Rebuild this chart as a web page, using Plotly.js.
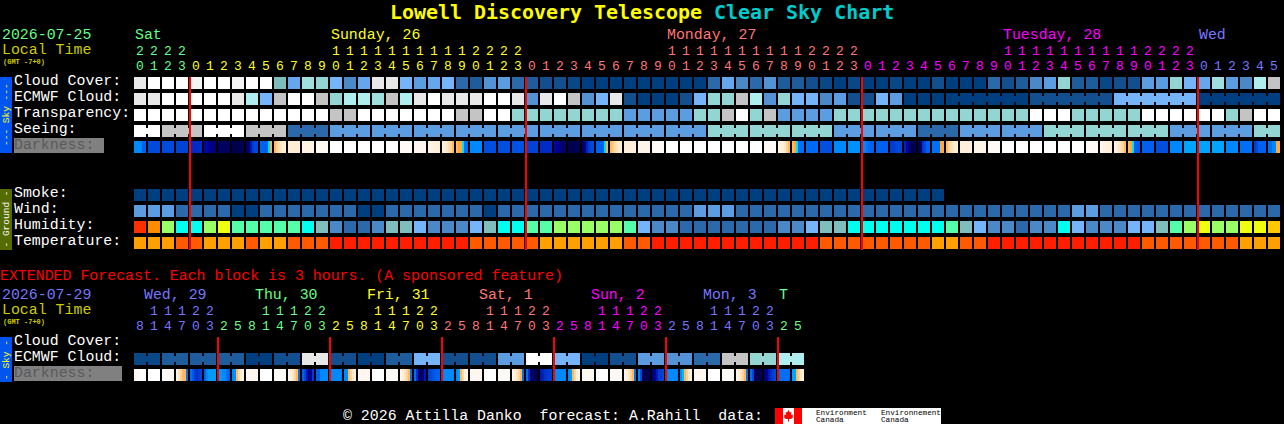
<!DOCTYPE html>
<html>
<head>
<meta charset="utf-8">
<script src="https://cdn.plot.ly/plotly-3.0.1.min.js"></script>
<style>html,body{margin:0;padding:0;background:#000;overflow:hidden}#chart{width:1284px;height:424px}</style>
</head>
<body>
<div id="chart"></div>
<script>
// ---------- values ----------
const cloudCover=[90,100,100,100,95,100,100,95,100,100,55,45,65,60,50,30,45,90,90,50,40,45,50,20,15,35,40,20,15,10,10,5,0,0,0,0,0,0,0,0,0,20,45,30,20,35,15,15,10,5,0,5,0,0,5,0,0,10,0,0,0,20,10,15,30,40,60,15,15,5,10,10,40,40,60,50,45,65,40,30,70,80];
const ecmwfCloud=[90,90,100,100,100,100,100,90,70,50,80,100,100,80,60,70,70,65,80,70,90,100,90,90,90,100,100,90,35,90,100,80,35,50,90,10,0,0,0,10,50,60,60,80,70,35,60,50,50,30,40,10,10,50,40,0,0,0,0,0,0,0,0,0,10,10,10,10,10,10,50,50,50,50,50,50,0,0,0,0,0,0];
const transparency=[100,100,100,100,100,100,100,100,100,100,100,100,100,100,80,80,100,100,100,100,100,100,100,80,80,100,100,60,60,60,60,60,60,60,60,40,40,40,40,40,60,60,80,100,60,80,40,40,40,40,60,60,60,60,60,60,60,60,60,60,60,60,60,60,100,100,100,60,60,60,60,60,100,100,100,100,100,100,60,80,100,100];
const seeing=[100,100,80,80,80,100,100,100,80,80,80,20,20,20,40,40,40,40,40,40,40,40,40,40,40,40,40,40,40,40,40,40,40,40,40,40,40,40,40,40,40,60,60,60,60,60,60,60,60,60,40,40,40,40,40,40,20,20,20,40,40,40,40,40,40,60,60,60,60,60,60,60,60,60,40,40,40,40,40,40,60,60];
const smoke=[0,0,0,0,0,0,0,0,0,0,0,0,0,0,0,0,0,0,0,0,0,0,0,0,0,0,0,0,0,0,0,0,0,0,0,0,0,0,0,0,0,0,0,0,0,0,0,0,0,0,0,0,0,0,0,0,0,0];
const wind=[40,40,40,20,20,20,20,0,0,20,20,20,20,20,20,20,0,0,20,20,20,20,20,20,20,0,20,20,20,20,20,20,20,20,20,20,20,20,20,20,40,40,40,20,20,20,20,20,20,20,20,20,20,20,20,20,20,20,20,20,20,20,20,20,20,20,20,40,40,20,20,20,20,20,20,20,20,20,20,20,20,20];
const humidity=[75,70,55,45,45,55,60,50,50,50,50,50,45,40,30,25,25,30,40,40,35,30,30,30,35,40,45,45,50,50,55,55,55,55,55,50,35,30,30,25,25,25,25,25,25,25,30,30,35,40,40,45,45,45,45,45,45,45,50,40,35,30,30,25,30,30,45,35,30,30,30,35,35,40,50,55,60,55,55,60,60,65];
const temperature=[20,20,20,25,25,20,20,20,25,20,20,25,25,25,30,30,30,30,30,30,30,30,30,30,25,25,25,25,25,20,20,20,20,20,20,25,25,30,30,30,30,30,30,30,30,30,30,30,30,25,25,25,25,25,25,25,25,20,20,25,25,30,30,30,30,30,30,30,30,30,30,30,25,25,25,25,25,25,25,20,20,20];
const darkness=[[.5,.5,.5,.5,.42,.42],.36,.36,.33,.24,[.16,.16,.14,.12,.1,.1],.07,.05,[.07,.1,.2,.3,.35,.35],[.42,.42,.42,.42,.63,.69],[.72,.78,.82,.85,.87,.9],.88,.92,.96,1,1,1,1,1,.97,.95,[.93,.92,.91,.9,.89,.88],[.9,.88,.85,.82,.78,.72],[.72,.69,.69,.64,.45,.45],.5,.37,.37,.38,.33,.24,[.16,.14,.12,.1,.08,.08],.05,[.07,.12,.22,.3,.35,.36],[.42,.42,.42,.42,.63,.69],[.72,.76,.8,.84,.86,.88],.9,.93,.97,1,1,1,1,1,1,1,.97,[.93,.9,.88,.85,.78,.72],[.72,.69,.64,.45,.45,.45],.44,.37,.5,.52,[.5,.5,.46,.44,.42,.42],.42,[.3,.3,.32,.34,.35,.35],[.22,.16,.1,.06,.05,.05],[.05,.1,.28,.35,.42,.42],[.45,.45,.45,.45,.69,.69],[.72,.78,.82,.85,.88,.9],.9,.93,.97,1,1,1,1,1,1,.97,[.95,.93,.92,.9,.9,.88],[.93,.88,.85,.82,.78,.72],[.72,.69,.64,.42,.42,.4],.42,.37,.5,.58,.58,.58,.5,.45,[.3,.36,.42,.42,.42,.42],[.45,.45,.5,.5,.69,.69]];
const extEcmwf=[5,5,15,15,15,15,15,15,0,0,10,10,90,90,10,10,0,0,15,15,50,50,10,10,10,10,40,40,100,100,50,50,0,0,10,10,40,40,35,35,20,20,80,80,60,60,70,70];
const extDarkness=[[.95,.96,.97,1,1,1],1,[1,1,.98,.97,.96,.95],[.93,.85,.78,.72,.72,.45],[.45,.4,.3,.25,.3,.33],[.42,.5,.55,.55,.55,.55],[.55,.55,.5,.5,.45,.42],[.5,.52,.72,.8,.88,.93],.95,1,.98,[.95,.9,.85,.78,.72,.45],[.42,.35,.2,.1,.15,.3],[.42,.42,.5,.5,.5,.5],.5,[.5,.5,.72,.78,.85,.9],.95,1,.98,[.94,.88,.84,.78,.72,.45],[.45,.25,.1,.05,.1,.2],[.33,.35,.38,.4,.42,.42],.5,[.5,.55,.72,.8,.9,.93],.95,1,.98,[.94,.88,.84,.78,.72,.45],[.45,.25,.05,.1,.05,.05],[.2,.22,.25,.28,.3,.3],.5,[.5,.55,.72,.8,.9,.93],.96,1,.97,[.94,.88,.84,.78,.72,.45],[.5,.35,.05,.05,.05,.05],[.1,.15,.2,.3,.3,.35],.5,[.5,.6,.72,.78,.85,.93],.96,1,.98,[.94,.88,.84,.78,.72,.45],[.45,.35,.05,.05,.05,.05],[.1,.15,.2,.25,.3,.35],.45,[.58,.58,.72,.78,.85,.93]];
const mainHours=[20,21,22,23,0,1,2,3,4,5,6,7,8,9,10,11,12,13,14,15,16,17,18,19,20,21,22,23,0,1,2,3,4,5,6,7,8,9,10,11,12,13,14,15,16,17,18,19,20,21,22,23,0,1,2,3,4,5,6,7,8,9,10,11,12,13,14,15,16,17,18,19,20,21,22,23,0,1,2,3,4,5];
const mainDayOfHour=[0,0,0,0,1,1,1,1,1,1,1,1,1,1,1,1,1,1,1,1,1,1,1,1,1,1,1,1,2,2,2,2,2,2,2,2,2,2,2,2,2,2,2,2,2,2,2,2,2,2,2,2,3,3,3,3,3,3,3,3,3,3,3,3,3,3,3,3,3,3,3,3,3,3,3,3,4,4,4,4,4,4];
const extHours=[8,11,14,17,20,23,2,5,8,11,14,17,20,23,2,5,8,11,14,17,20,23,2,5,8,11,14,17,20,23,2,5,8,11,14,17,20,23,2,5,8,11,14,17,20,23,2,5];
const extDayOfHour=[0,0,0,0,0,0,1,1,1,1,1,1,1,1,2,2,2,2,2,2,2,2,3,3,3,3,3,3,3,3,4,4,4,4,4,4,4,4,5,5,5,5,5,5,5,5,6,6];
const mainDays=["Sat","Sunday, 26","Monday, 27","Tuesday, 28","Wed"];
const mainDayColors=["#66ff88","#ffff22","#ff7777","#ff00ff","#7777ff"];
const mainDayPx=[135,331,667,1003,1199];
const extDays=["Wed, 29","Thu, 30","Fri, 31","Sat, 1","Sun, 2","Mon, 3","T"];
const extDayColors=["#7777ff","#66ff88","#ffff22","#ff7777","#ff00ff","#7777ff","#66ff88"];
const extDayPx=[144,255,367,479,591,703,779];
const rowLabels=["Cloud Cover:","ECMWF Cloud:","Transparency:","Seeing:"];
const groundLabels=["Smoke:","Wind:","Humidity:","Temperature:"];
const midnightColsMain=[4,28,52,76];
const midnightColsExt=[6,14,22,30,38,46];

// ---------- palettes ----------
const cloudPalette={0:"#003f7f",5:"#0a4786",10:"#134f8e",15:"#1f5c9c",20:"#2b69ab",30:"#4a88c8",35:"#5392d4",40:"#5c9ce0",45:"#66a6ec",50:"#75b4f8",55:"#7fbdbd",60:"#93d5d3",65:"#9fe0df",70:"#aeeeee",80:"#c4c4c4",90:"#e8e8e8",95:"#f4f4f4",100:"#ffffff"};
const humidityPalette={25:"#2b69ab",30:"#4a88c8",35:"#75b4f8",40:"#80bdbd",45:"#00ffee",50:"#55ffaa",55:"#99ff66",60:"#eeff10",65:"#ffc800",70:"#ff8c00",75:"#ff3000"};
const tempPalette={20:"#ffa000",25:"#ff5a00",30:"#ff1e00"};
const darkScale=[[0,"#000030"],[.05,"#000050"],[.15,"#0000a0"],[.25,"#0030c8"],[.35,"#0048d8"],[.42,"#0060f0"],[.5,"#0088ff"],[.58,"#00a4ff"],[.64,"#00e0ff"],[.66,"#00ffff"],[.67,"#ffa028"],[.75,"#ffc880"],[.85,"#ffe8c8"],[.93,"#fff4e8"],[1,"#ffffff"]];

// ---------- geometry helpers (one column = 14px, one row = 16px) ----------
const W=1284,H=424,X0=134,Y0=77,CW=14,RH=16;
const font="'Liberation Mono', monospace";
const boldFont="'DejaVu Sans Mono', monospace";
const rowY=px=>(px-Y0)/RH;
const px2=(x)=>x/W, py2=(y)=>1-y/H;
const traces=[];
function row(values,palette,top){
  traces.push({type:"bar",x:values.map((_,i)=>i+6/CW),base:values.map(()=>top),y:values.map(()=>12/RH),width:12/CW,
    marker:{color:values.map(v=>palette[v]),line:{width:0}},hoverinfo:"skip",showlegend:false});
}
function necks(values,palette,top,linked){
  const idx=[];values.forEach((v,i)=>{if(i<values.length-1&&linked(i))idx.push(i)});
  traces.push({type:"bar",x:idx.map(i=>i+13/CW),base:idx.map(()=>top+3/RH),y:idx.map(()=>6/RH),width:2/CW,
    marker:{color:idx.map(i=>palette[values[i]]),line:{width:0}},hoverinfo:"skip",showlegend:false});
}
function dark(list,top){
  const z=[];list.forEach(b=>{const s=Array.isArray(b)?b:[b,b,b,b,b,b];z.push(...s,null)});
  traces.push({type:"heatmap",z:[z],x0:1/14,dx:1/7,y:[top,top+12/RH],zmin:0,zmax:1,colorscale:darkScale,showscale:false,hoverinfo:"skip",zsmooth:false});
}
function digits(hours,dayOf,colors,unitsPx,tensPx){
  const tx=[],ty=[],tt=[],tc=[];
  hours.forEach((h,i)=>{
    tx.push(i+6/CW);ty.push(rowY(unitsPx));tt.push(String(h%10));tc.push(colors[dayOf[i]]);
    if(h>=10){tx.push(i+6/CW);ty.push(rowY(tensPx));tt.push(String(Math.floor(h/10)));tc.push(colors[dayOf[i]]);}
  });
  traces.push({type:"scatter",mode:"text",x:tx,y:ty,text:tt,textposition:"middle center",textfont:{family:font,size:13,color:tc},hoverinfo:"skip",showlegend:false,cliponaxis:false});
}

row(cloudCover,cloudPalette,0);
row(ecmwfCloud,cloudPalette,1);
necks(ecmwfCloud,cloudPalette,1,i=>i>=58&&![63,69,75].includes(i));
row(transparency,cloudPalette,2);
row(seeing,cloudPalette,3);
necks(seeing,cloudPalette,3,i=>i%3!==1);
dark(darkness,4);
row(smoke,cloudPalette,7);
row(wind,cloudPalette,8);
row(humidity,humidityPalette,9);
row(temperature,tempPalette,10);
row(extEcmwf,cloudPalette,rowY(353));
necks(extEcmwf,cloudPalette,rowY(353),i=>i%2===0);
dark(extDarkness,rowY(369));
digits(mainHours,mainDayOfHour,mainDayColors,67,52);
digits(extHours,extDayOfHour,extDayColors,327,312);

// ---------- text ----------
const ann=[];
function label(text,x,y,color,size,opt){
  ann.push(Object.assign({xref:"paper",yref:"paper",x:px2(x),y:py2(y),text:text,showarrow:false,xanchor:"left",yanchor:"middle",borderpad:0,borderwidth:0,font:{family:font,size:size||14.9,color:color}},opt||{}));
}
label('<b>Lowell Discovery Telescope <span style="color:#00cccc">Clear Sky Chart</span></b>',390,12,"#ffff00",19.95,{font:{family:boldFont,size:19.95,color:"#ffff00"}});
label("2026-07-25",2,35,"#66ff88");
label("Local Time",2,50,"#cccc00");
label("<b>(GMT -7+0)</b>",3,62,"#cccc00",7);
mainDays.forEach((d,i)=>label(d,mainDayPx[i],35,mainDayColors[i]));
rowLabels.forEach((t,i)=>label(t,14,81+16*i,"#ffffff"));
label("Darkness:",14,145,"#5a5a5a");
groundLabels.forEach((t,i)=>label(t,14,193+16*i,"#ffffff"));
label("EXTENDED Forecast. Each block is 3 hours. (A sponsored feature)",0,276,"#ff0000");
label("2026-07-29",2,295,"#7777ff");
label("Local Time",2,310,"#cccc00");
label("<b>(GMT -7+0)</b>",3,322,"#cccc00",7);
extDays.forEach((d,i)=>label(d,extDayPx[i],295,extDayColors[i]));
label("Cloud Cover:",14,341,"#ffffff");
label("ECMWF Cloud:",14,357,"#ffffff");
label("Darkness:",14,373,"#5a5a5a");
label("\u00a9 2026 Attilla Danko\u00a0\u00a0forecast: A.Rahill\u00a0\u00a0data:",343,416,"#ffffff");
label("Environment",816,412.5,"#000000",7.7);
label("Canada",816,420,"#000000",7.7);
label("Environnement",881,412.5,"#000000",7.7);
label("Canada",881,420,"#000000",7.7);
const side=(t,y,c)=>ann.push({xref:"paper",yref:"paper",x:px2(6),y:py2(y),text:t,showarrow:false,textangle:-90,xanchor:"center",yanchor:"middle",borderpad:0,font:{family:font,size:9.5,color:c}});
side("---\u00a0Sky\u00a0---",115,"#ffff00");
side("-\u00a0Ground\u00a0-",219.5,"#ffffff");
side("-\u00a0Sky\u00a0-",360,"#ffff00");

// ---------- decoration ----------
const rect=(x0,y0,x1,y1,c)=>({type:"rect",xref:"paper",yref:"paper",x0:px2(x0),x1:px2(x1),y0:py2(y0),y1:py2(y1),fillcolor:c,line:{width:0},layer:"below"});
const shapes=[rect(0,77,12,153,"#0055ee"),rect(0,189,12,250,"#556b00"),rect(0,337,12,382,"#0055ee"),
  rect(14,138,104,153,"#808080"),rect(14,366,122,381,"#808080"),
  rect(775,408,941,424,"#ffffff"),rect(775,408,783,424,"#ff0000"),rect(794,408,802,424,"#ff0000")];
const leaf=[[788.5,410],[790,412.5],[791.5,412],[791,415],[793,414.5],[792.5,416.5],[793.5,417],[791,419],[789,419],[789,421.5],[788,421.5],[788,419],[786,419],[783.5,417],[784.5,416.5],[784,414.5],[786,415],[785.5,412],[787,412.5]];
shapes.push({type:"path",xref:"paper",yref:"paper",path:"M "+leaf.map(p=>px2(p[0])+" "+py2(p[1])).join(" L ")+" Z",fillcolor:"#ff0000",line:{width:0}});
midnightColsMain.forEach(c=>shapes.push({type:"line",xref:"x",yref:"y",x0:c,x1:c,y0:0,y1:rowY(250),line:{color:"#ff0000",width:2},layer:"above"}));
midnightColsExt.forEach(c=>shapes.push({type:"line",xref:"x",yref:"y",x0:c,x1:c,y0:rowY(337),y1:rowY(381),line:{color:"#ff0000",width:2},layer:"above"}));

Plotly.newPlot("chart",traces,{
  width:W,height:H,margin:{l:0,r:0,t:0,b:0,pad:0},paper_bgcolor:"#000",plot_bgcolor:"#000",showlegend:false,barmode:"overlay",bargap:0,
  xaxis:{visible:false,range:[-X0/CW,(W-X0)/CW],fixedrange:true},
  yaxis:{visible:false,range:[(H-Y0)/RH,-Y0/RH],fixedrange:true},
  annotations:ann,shapes:shapes
},{displayModeBar:false,staticPlot:true});
</script>
</body>
</html>
